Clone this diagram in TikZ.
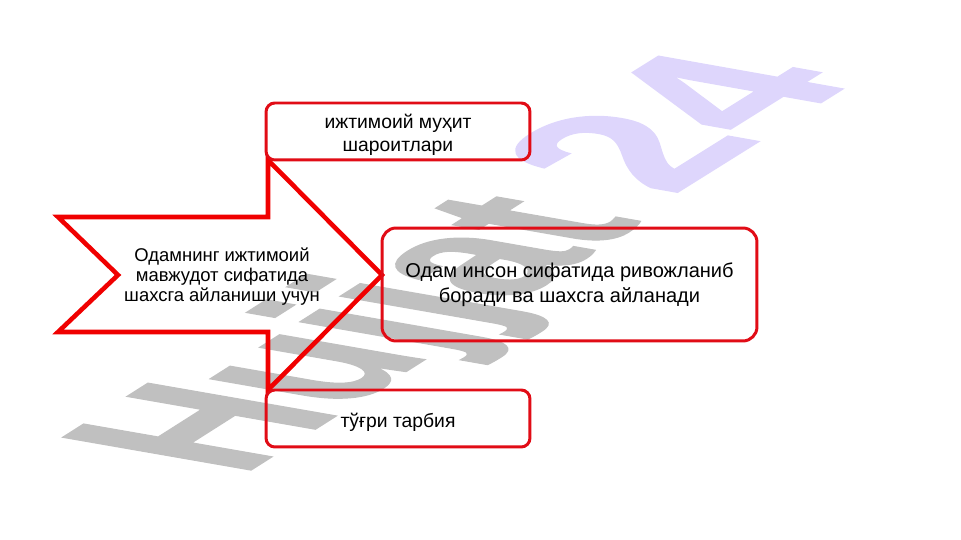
\documentclass[tikz,border=0pt]{standalone}
\usepackage{fontspec}
\setmainfont{Liberation Sans}
\newfontfamily\markfont[FakeBold=1]{Liberation Sans Bold}
\usetikzlibrary{positioning}
\definecolor{boxred}{RGB}{225,12,22}
\definecolor{arrowred}{RGB}{240,0,0}
\definecolor{wmgray}{RGB}{192,192,192}
\definecolor{wmlilac}{RGB}{222,214,252}
\tikzset{
  infobox/.style={draw=boxred, line width=1.7pt, rounded corners=5pt,
    inner sep=0pt},
  boxtext/.style={align=center, inner sep=0pt, font=\fontsize{11}{13}\selectfont},
  arrowline/.style={draw=arrowred, line width=2.6pt, line join=miter},
  marktext/.style={transform shape, anchor=base west, inner sep=0pt,
    font=\fontsize{10}{12}\markfont}
}

\begin{document}
\begin{tikzpicture}[x=0.02cm, y=-0.02cm]
\useasboundingbox (0,0) rectangle (961,540);
% watermark
\begin{scope}[shift={(238,478)}, cm={8.25,5.24,-15.5,2.7,(0,0)}]
\node[marktext, text=wmgray] (markword) at (0,0) {Hujjat};
\end{scope}
\begin{scope}[shift={(668,198)}, cm={9.6,6.0,-15.2,2.7,(0,0)}]
\node[marktext, text=wmlilac] (marknum) at (0,0) {24};
\end{scope}
% big arrow
\draw[arrowline] (58,217) -- (268,217) -- (268,160) -- (382,275)
     -- (268,390) -- (268,332) -- (58,332) -- (118,275) -- cycle;
\node[align=center, font=\fontsize{10.5}{11.4}\selectfont] (cause)
     at (222,277) {Одамнинг ижтимоий\\мавжудот сифатида\\шахсга айланиши учун};
% boxes
\node[infobox, minimum width=5.28cm, minimum height=1.14cm] (milieu) at (398,131.5) {};
\node[boxtext] (milieutext) at ([yshift=-2] milieu.center) {ижтимоий муҳит\\шароитлари};
\node[infobox, minimum width=5.28cm, minimum height=1.14cm] (upbring) at (398,418.5) {};
\node[boxtext] (upbringtext) at ([yshift=-2] upbring.center) {тўғри тарбия};
\node[infobox, rounded corners=8pt, minimum width=7.5cm, minimum height=2.26cm] (result)
     at (569.5,284.5) {};
\node[boxtext, font=\fontsize{11.4}{14.2}\selectfont] (resulttext) at (result.center)
     {Одам инсон сифатида ривожланиб\\боради ва шахсга айланади};
\end{tikzpicture}
\end{document}
